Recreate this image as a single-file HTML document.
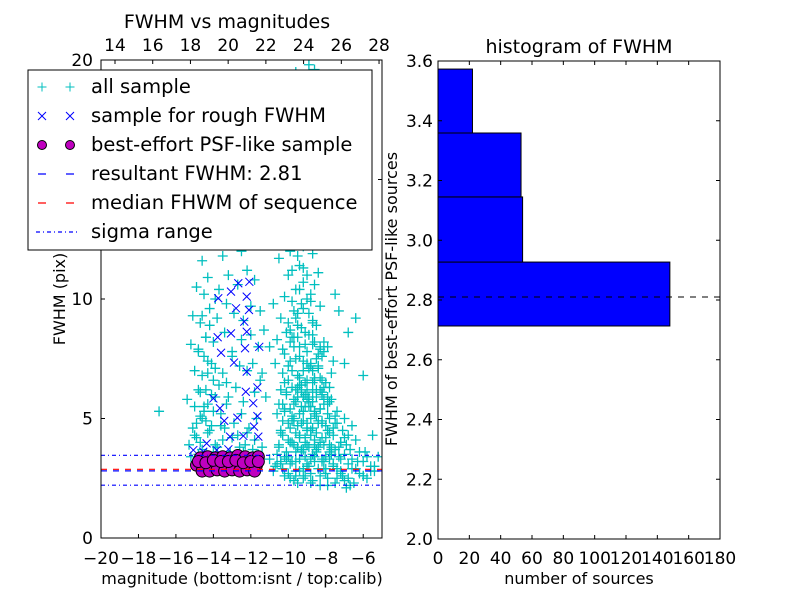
<!DOCTYPE html>
<html><head><meta charset="utf-8"><style>
body{margin:0;background:#fff;}
svg{display:block;font-family:"DejaVu Sans","Liberation Sans",sans-serif;}
</style></head><body>
<svg id="chart" width="800" height="600" viewBox="0 0 800 600"></svg>
<script>
// ---- left scatter data ----
const allMag = [
-15.3,-14.9,-14.6,-14.2,-13.8,-13.5,-13.1,-12.7,-12.3,-11.9,
-15.1,-14.7,-14.4,-14.0,-13.6,-13.3,-12.9,-12.5,-12.1,-11.7,
-15.4,-14.8,-14.5,-14.1,-13.7,-13.2,-12.8,-12.4,-11.8,-11.5,
-15.0,-14.6,-14.3,-13.9,-13.5,-13.0,-12.6,-12.2,-11.9,-11.4,
-15.2,-14.8,-14.4,-14.0,-13.4,-13.0,-12.5,-12.0,-11.6,-11.3,
-15.1,-14.7,-14.2,-13.8,-13.3,-12.9,-12.4,-12.0,-11.5,-14.5,
-14.9,-14.3,-13.7,-13.2,-12.7,-12.2,-11.8,-14.6,-13.5,-12.5,
-15.2,-14.8,-14.4,-14.0,-13.6,-13.2,-12.8,-12.4,-12.0,-11.6,
-14.7,-14.3,-13.9,-13.4,-13.0,-12.6,-12.2,-11.8,-11.4,-15.0,
-14.6,-14.3,-14.0,-14.5,-14.2,-13.9,-14.4,-14.1,-13.6,-13.3,
-14.9,-14.5,-14.1,-14.7,-14.3,-13.9,-14.8,-14.4,-15.0,-14.6,
-16.9,
-10.2,-9.7,-9.2,-8.8,-8.3,-7.9,-7.4,-7.0,-6.5,-6.0,
-10.7,-10.3,-9.9,-9.4,-9.0,-8.6,-8.1,-7.6,-7.2,-6.8,
-10.6,-10.1,-9.6,-9.1,-8.7,-8.2,-7.8,-7.3,-6.3,-5.6,
-10.5,-10.0,-9.5,-9.1,-8.6,-8.2,-7.7,-7.2,-6.7,-5.9,
-10.4,-9.9,-9.4,-9.0,-8.5,-8.0,-7.6,-7.1,-6.4,-5.5,
-10.3,-9.8,-9.3,-8.8,-8.4,-7.9,-7.5,-7.0,-10.6,-6.6,
-10.2,-9.7,-9.2,-8.8,-8.3,-7.8,-7.4,-10.5,-9.0,-8.6,
-10.1,-9.6,-9.2,-8.7,-8.2,-7.8,-10.4,-9.4,-8.9,-8.0,
-10.0,-9.5,-9.1,-8.6,-8.2,-7.7,-9.8,-8.9,-8.4,-10.3,
-9.9,-9.4,-9.0,-8.5,-8.1,-7.6,-9.7,-8.7,-8.3,-10.2,
-9.6,-9.2,-8.8,-8.4,-8.0,-9.4,-9.0,-8.6,-8.2,-7.8,
-9.7,-9.3,-8.9,-8.5,-8.1,-9.5,-9.1,-8.7,-8.3,-7.9,
-10.8,-10.4,-10.0,-9.6,-9.2,-8.8,-8.4,-8.0,-7.6,-7.2,
-6.9,-6.2,-5.8,-5.4,-5.2,-6.6,-6.0,-7.8,-7.4,-7.0,
-10.6,-10.1,-9.7,-9.3,-8.9,-8.5,-8.1,-10.4,-9.5,-8.7,
-10.8,-10.2,-9.8,-9.4,-9.0,-8.6,-8.3,-10.0,-9.2,-8.4,
-10.5,-9.9,-9.5,-9.1,-8.7,-8.2,-10.3,-9.6,-8.9,-8.5,
-9.4,-9.0,-8.6,-9.2,-8.8,-8.4,-9.6,-8.9,-8.6,-7.6,
-7.3,-6.8,-6.4,-7.0,-11.0,-10.7,-11.2,-7.5,-6.0,-7.9,
-10.4,-10.0,-9.6,-9.3,-8.9,-8.5,-8.1,-7.7,-9.8,-9.0,
-10.3,-9.9,-9.5,-9.1,-8.7,-8.3,-7.9,-7.5,-9.7,-8.8,
-10.2,-9.8,-9.4,-9.0,-8.6,-8.2,-7.8,-9.6,-8.9,-8.5,
-10.1,-9.7,-9.3,-8.9,-8.5,-8.1,-9.5,-9.0,-8.7,-8.3,
-10.0,-9.6,-9.2,-8.8,-8.4,-9.4,-9.0,-8.6,-9.8,-8.2,
-9.9,-9.5,-9.1,-8.7,-9.7,-9.3,-8.9,-9.6,-9.2,-8.8,
-9.8,-9.4,-9.0,-9.6,-9.2,-8.8,-9.5,-9.1,-8.7,-9.3,
-11.0,-10.6,-10.2,-9.8,-9.4,-9.0,-8.6,-8.2,-7.8,-7.4,
-7.0,-6.6,-6.2,-5.8,-5.4,-7.2,-6.8,-6.4,-6.0,-5.6,
-9.9,-9.5,-9.1,-8.7,-8.3,-7.9,-7.5,-7.1,-6.7,-8.0,
-10.5,-10.1,-9.7,-9.3,-8.9,-8.5,-8.1,-7.7,-7.3,-6.9,
-10.4,-10.0,-9.6,-9.2,-8.8,-8.4,-8.0,-7.6,-7.2,-6.8,
-10.3,-9.9,-9.5,-9.1,-8.7,-8.3,-7.9,-7.5,-9.3,-8.1,
-10.2,-9.8,-9.4,-9.0,-8.6,-8.2,-9.2,-8.8,-8.4,-7.7,
-10.3,-9.9,-9.5,-9.1,-8.7,-8.3,-10.0,-9.6,-9.2,-8.8
];
const allFwhm = [
3.9,4.2,3.7,4.5,3.8,4.1,3.6,4.3,3.9,3.7,
4.6,5.1,4.9,5.3,4.7,5.6,4.8,5.2,4.6,5.0,
5.8,6.2,5.5,6.0,6.4,5.9,6.3,5.7,6.1,6.6,
7.0,6.8,7.4,7.1,6.9,7.6,7.2,7.0,7.3,6.9,
8.1,7.9,8.4,8.2,8.6,7.8,8.3,8.5,8.0,8.7,
9.3,9.0,9.6,9.2,9.8,9.4,9.1,9.7,9.5,10.2,
10.5,10.9,10.4,11.0,10.6,11.2,10.8,11.6,11.8,12.0,
3.4,3.5,3.3,3.6,3.4,3.5,3.3,3.6,3.4,3.5,
4.0,4.4,3.9,4.6,4.2,3.8,4.4,4.1,3.8,4.3,
5.0,5.6,6.6,7.6,8.9,10.0,6.2,7.3,5.2,6.5,
4.8,5.3,4.7,6.1,6.9,5.9,7.8,8.4,5.5,9.3,
5.3,
2.6,2.4,2.5,2.3,2.6,2.2,2.5,2.4,2.3,2.6,
3.0,2.9,3.1,2.8,3.0,3.2,2.9,3.0,2.8,3.1,
3.5,3.3,3.6,3.4,3.5,3.3,3.6,3.4,3.2,3.0,
3.9,4.1,3.8,4.0,3.9,4.2,3.8,4.0,3.7,3.6,
4.4,4.6,4.3,4.5,4.4,4.7,4.3,4.5,4.1,4.3,
4.9,5.1,4.8,5.0,4.9,5.2,4.8,5.0,5.2,4.7,
5.4,5.6,5.3,5.5,5.4,5.7,5.3,5.6,5.8,5.2,
6.0,6.2,5.9,6.1,6.0,6.3,6.2,6.4,5.9,6.5,
6.6,6.8,6.5,6.7,6.6,6.9,7.0,7.1,7.2,6.9,
7.4,7.6,7.3,7.5,7.8,7.4,8.0,8.1,7.9,7.7,
3.2,3.7,3.3,3.8,3.4,4.2,4.6,4.1,4.8,3.9,
5.0,5.5,5.8,5.1,5.6,6.3,6.0,6.5,6.2,5.9,
2.8,3.2,2.7,2.6,2.9,2.7,2.9,2.7,3.1,3.3,
2.1,2.7,2.5,2.8,3.4,2.9,3.2,4.4,4.8,4.2,
8.3,8.6,8.4,8.8,8.5,8.9,8.2,9.2,9.4,9.1,
9.8,10.1,9.9,10.4,10.0,10.6,9.7,11.0,11.3,11.1,
11.7,12.0,11.8,12.4,11.9,12.3,13.2,13.5,13.8,14.5,
15.2,16.0,16.8,17.5,18.3,19.0,19.5,19.8,19.6,19.3,
9.5,8.6,9.2,7.3,8.0,7.3,5.9,10.2,6.8,8.0,
3.1,3.4,2.8,3.6,3.0,3.7,3.2,3.5,4.0,3.9,
4.3,4.0,4.7,4.2,4.6,4.0,4.5,3.7,4.9,4.3,
5.3,4.9,5.2,4.8,5.3,4.9,5.0,5.7,5.5,5.9,
6.1,5.8,6.4,5.7,6.2,5.8,6.8,6.6,7.0,6.7,
7.2,7.5,7.0,7.3,7.1,8.0,7.8,8.2,8.4,7.6,
8.7,8.9,8.6,9.0,9.5,9.8,9.4,10.4,10.7,10.2,
11.2,11.4,11.0,12.5,12.2,12.8,14.2,15.5,13.5,17.0,
3.3,3.1,3.4,3.2,3.3,3.1,3.4,3.2,3.3,2.9,
3.5,3.3,3.6,3.4,3.0,2.7,2.5,2.9,2.6,2.8,
2.5,2.3,2.6,2.4,2.2,2.5,2.3,2.6,2.2,2.9,
3.8,3.6,3.9,3.7,3.8,3.6,3.9,3.7,3.8,3.9,
4.5,4.8,4.4,4.9,4.5,4.8,4.2,4.6,4.0,4.3,
5.6,5.4,5.9,5.5,5.7,5.4,5.6,5.1,6.1,6.3,
6.5,6.3,6.7,6.2,6.6,6.1,7.4,7.2,7.7,5.8,
7.9,8.2,8.4,8.1,8.5,8.0,9.0,9.2,9.6,9.9
];
const roughMag = [-13.74,-13.06,-12.79,-12.22,-12.10,-12.67,-12.08,-12.35,-13.06,-13.77,-12.22,-13.59,-12.31,-11.55,-12.90,-12.22,-11.65,-12.27,-14.00,-13.65,-13.42,-12.72,-11.87,-11.65,-11.83,-12.40,-13.11,-11.60,-14.36,-15.07,-14.54,-13.82,-13.20];
const roughFwhm = [10.03,10.31,9.61,10.10,9.54,10.66,10.72,9.05,8.56,8.40,8.63,7.75,7.94,8.00,7.34,6.96,6.30,6.12,5.84,5.43,4.90,5.03,5.64,5.10,4.66,4.27,4.24,4.24,3.96,3.68,3.61,3.68,3.71];
const psfMag = [-14.7,-14.3,-13.9,-13.5,-13.1,-12.7,-12.3,-11.9,-11.6,
-14.9,-14.5,-14.1,-13.7,-13.3,-12.9,-12.5,-12.1,-11.7,
-14.6,-14.2,-13.8,-13.4,-13.0,-12.6,-12.2,-11.8,
-14.8,-14.4,-14.0,-13.6,-13.2,-12.8,-12.4,-12.0,-11.6];
const psfFwhm = [3.35,3.4,3.35,3.4,3.35,3.45,3.4,3.35,3.4,
3.05,3.0,3.05,3.1,3.0,3.05,3.1,3.0,3.05,
2.8,2.8,2.85,2.8,2.85,2.8,2.85,2.8,
3.2,3.15,3.25,3.2,3.2,3.25,3.15,3.2,3.2];
const resultFwhm = 2.81;
const medianFwhm = 2.875;
const sigmaRange = [2.21, 3.46];
const xTicksBottom = [-20,-18,-16,-14,-12,-10,-8,-6];
const xTicksTop = [14,16,18,20,22,24,26,28];
const yTicksLeft = [0,5,10,15,20];
// ---- histogram data ----
const binEdges = [2.713,2.927,3.145,3.359,3.573];
const binCounts = [148,54,53,22];
const histYTicks = [2.0,2.2,2.4,2.6,2.8,3.0,3.2,3.4,3.6];
const histXTicks = [0,20,40,60,80,100,120,140,160,180];

const NS="http://www.w3.org/2000/svg";
const svg=document.getElementById('chart');
function mk(tag,attrs,parent){const e=document.createElementNS(NS,tag);for(const k in attrs)e.setAttribute(k,attrs[k]);(parent||svg).appendChild(e);return e;}
function txt(s,x,y,size,anchor,parent,rot){const t=mk('text',{x:x,y:y,'font-size':size,'text-anchor':anchor||'middle',fill:'#000'},parent);if(rot)t.setAttribute('transform','rotate(-90 '+x+' '+y+')');t.textContent=s;return t;}

const L={l:101,r:382,t:60,b:538};
const xb=m=>L.l+(m+20)*18.73;
const xt=v=>115+(v-14)*18.86;
const yl=f=>L.b-f*23.9;
mk('defs',{}).innerHTML='<clipPath id="clipL"><rect x="101" y="60" width="281" height="478"/></clipPath>';

const gAll=mk('g',{'clip-path':'url(#clipL)',stroke:'#00bfbf','stroke-width':1.3,fill:'none'});


for(let i=0;i<allMag.length;i++){const x=xb(allMag[i]),y=yl(allFwhm[i]);
 const p=mk('path',{d:`M${x-5},${y}H${x+5}M${x},${y-5}V${y+5}`},gAll);
 
 }

const gR=mk('g',{'clip-path':'url(#clipL)',stroke:'#0000ff','stroke-width':1,fill:'none'});


for(let i=0;i<roughMag.length;i++){const x=xb(roughMag[i]),y=yl(roughFwhm[i]);
 const p=mk('path',{d:`M${x-4},${y-4}L${x+4},${y+4}M${x-4},${y+4}L${x+4},${y-4}`},gR);
 
 }

const gP=mk('g',{'clip-path':'url(#clipL)',stroke:'#000','stroke-width':1,fill:'#bf00bf'});


for(let i=0;i<psfMag.length;i++){const c=mk('circle',{cx:xb(psfMag[i]),cy:yl(psfFwhm[i]),r:6},gP);
 
 }

let ln;
ln=mk('line',{x1:L.l,x2:L.r,y1:yl(resultFwhm),y2:yl(resultFwhm),stroke:'#0000ff','stroke-width':1.2,'stroke-dasharray':'6,6'});

ln=mk('line',{x1:L.l,x2:L.r,y1:yl(medianFwhm),y2:yl(medianFwhm),stroke:'#ff0000','stroke-width':1.2,'stroke-dasharray':'6,6'});

for(const s of sigmaRange){ln=mk('line',{x1:L.l,x2:L.r,y1:yl(s),y2:yl(s),stroke:'#0000ff','stroke-width':1.2,'stroke-dasharray':'4,3,1,3'});
 }

let fr=mk('rect',{x:L.l,y:L.t,width:L.r-L.l,height:L.b-L.t,fill:'none',stroke:'#000','stroke-width':1});

const tk=mk('g',{stroke:'#000','stroke-width':1});
for(const v of xTicksBottom){const x=xb(v);mk('line',{x1:x,x2:x,y1:L.b,y2:L.b-4},tk);
 const t=txt('\u2212'+Math.abs(v),x,564,17);}
for(const v of xTicksTop){const x=xt(v);mk('line',{x1:x,x2:x,y1:L.t,y2:L.t+4},tk);
 const t=txt(String(v),x,51,17);}
for(const v of yTicksLeft){const y=yl(v);mk('line',{x1:L.l,x2:L.l+4,y1:y,y2:y},tk);mk('line',{x1:L.r,x2:L.r-4,y1:y,y2:y},tk);
 const t=txt(String(v),93,y+6,17,'end');}
let tt=txt('FWHM vs magnitudes',227,28,19);
tt=txt('magnitude (bottom:isnt / top:calib)',242,584,16);
tt=txt('FWHM (pix)',65,299,16,'middle',null,true);

const lg=mk('g',{});

mk('rect',{x:28,y:70,width:344,height:180,fill:'#fff',stroke:'#000','stroke-width':1},lg);
const lgLabels=['all sample','sample for rough FWHM','best-effort PSF-like sample','resultant FWHM: 2.81','median FHWM of sequence','sigma range'];
lgLabels.forEach((s,i)=>{const y=87+i*29;
 const e=mk('g',{},lg);
 if(i===0){for(const x of [42,70])mk('path',{d:`M${x-4.5},${y}H${x+4.5}M${x},${y-4.5}V${y+4.5}`,stroke:'#00bfbf',fill:'none'},e);}
 if(i===1){for(const x of [42,70])mk('path',{d:`M${x-4},${y-4}L${x+4},${y+4}M${x-4},${y+4}L${x+4},${y-4}`,stroke:'#0000ff',fill:'none'},e);}
 if(i===2){for(const x of [42,70])mk('circle',{cx:x,cy:y,r:4.5,fill:'#bf00bf',stroke:'#000'},e);}
 if(i===3)mk('line',{x1:38,x2:78,y1:y,y2:y,stroke:'#0000ff','stroke-width':1.2,'stroke-dasharray':'8,20'},e);
 if(i===4)mk('line',{x1:38,x2:78,y1:y,y2:y,stroke:'#ff0000','stroke-width':1.2,'stroke-dasharray':'8,20'},e);
 if(i===5)mk('line',{x1:36,x2:78,y1:y,y2:y,stroke:'#0000ff','stroke-width':1.2,'stroke-dasharray':'4,3,1,3'},e);
 txt(s,91,y+6,19.5,'start',e);
});

const R={l:438,r:720,t:61,b:539};
const xh=c=>R.l+c*(R.r-R.l)/180;
const yh=f=>R.b-(f-2.0)*(R.b-R.t)/1.6;
for(let i=0;i<binCounts.length;i++){
 const r=mk('rect',{x:xh(0),y:yh(binEdges[i+1]),width:xh(binCounts[i])-xh(0),height:yh(binEdges[i])-yh(binEdges[i+1]),fill:'#0000ff',stroke:'#000','stroke-width':1});
 }
ln=mk('line',{x1:R.l,x2:R.r,y1:yh(resultFwhm),y2:yh(resultFwhm),stroke:'#000','stroke-width':1,'stroke-dasharray':'6,6'});

fr=mk('rect',{x:R.l,y:R.t,width:R.r-R.l,height:R.b-R.t,fill:'none',stroke:'#000','stroke-width':1});

const tk2=mk('g',{stroke:'#000','stroke-width':1});
for(const v of histXTicks){const x=xh(v);mk('line',{x1:x,x2:x,y1:R.b,y2:R.b-4},tk2);mk('line',{x1:x,x2:x,y1:R.t,y2:R.t+4},tk2);
 const t=txt(String(v),x,564,17);}
for(const v of histYTicks){const y=yh(v);mk('line',{x1:R.l,x2:R.l+4,y1:y,y2:y},tk2);mk('line',{x1:R.r,x2:R.r-4,y1:y,y2:y},tk2);
 const t=txt(v.toFixed(1),433,y+6,17,'end');}
tt=txt('histogram of FWHM',579,53,19);
tt=txt('number of sources',579,584,16);
tt=txt('FWHM of best-effort PSF-like sources',397,299,16,'middle',null,true);
</script>
</body></html>
